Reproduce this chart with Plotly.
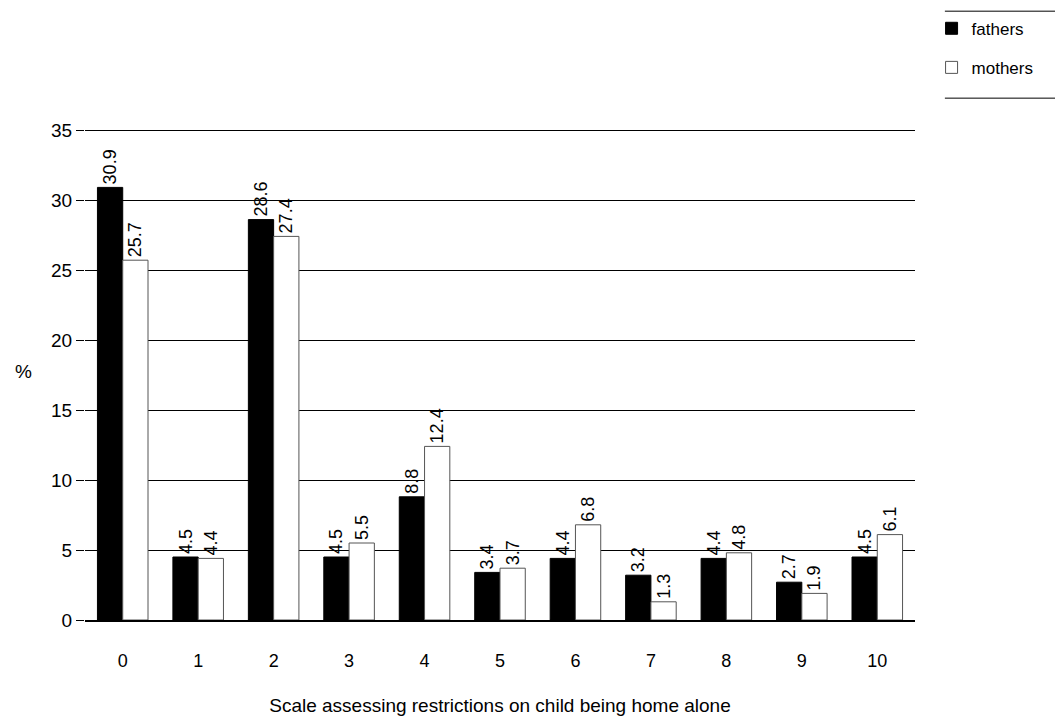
import plotly.graph_objects as go

categories = ["0", "1", "2", "3", "4", "5", "6", "7", "8", "9", "10"]
fathers = [30.9, 4.5, 28.6, 4.5, 8.8, 3.4, 4.4, 3.2, 4.4, 2.7, 4.5]
mothers = [25.7, 4.4, 27.4, 5.5, 12.4, 3.7, 6.8, 1.3, 4.8, 1.9, 6.1]
y_ticks = [0, 5, 10, 15, 20, 25, 30, 35]

FONT = "Liberation Sans, Arial, sans-serif"

fig = go.Figure()
fig.add_trace(go.Bar(
    x=categories, y=fathers, name="fathers", legendgroup="f",
    marker=dict(color="black", line=dict(color="black", width=1)),
    text=[f"{v}" for v in fathers], textposition="outside", textangle=-90,
    constraintext="none", cliponaxis=False,
    textfont=dict(size=18, color="black", family=FONT),
))
fig.add_trace(go.Bar(
    x=categories, y=mothers, name="mothers", legendgroup="m",
    marker=dict(color="white", line=dict(color="#555555", width=1)),
    text=[f"{v}" for v in mothers], textposition="outside", textangle=-90,
    constraintext="none", cliponaxis=False,
    textfont=dict(size=18, color="black", family=FONT),
))

fig.update_layout(
    width=1055, height=716,
    margin=dict(l=85, r=140, t=123, b=96),
    paper_bgcolor="white", plot_bgcolor="white",
    font=dict(family=FONT, size=17, color="black"),
    barmode="group", bargap=0.33, bargroupgap=0,
    showlegend=True,
    legend=dict(xref="container", yref="container",
                x=0.883, y=0.985, xanchor="left", yanchor="top",
                font=dict(size=17, color="black", family=FONT),
                bgcolor="rgba(0,0,0,0)", itemwidth=30,
                traceorder="grouped", tracegroupgap=14),
    xaxis=dict(
        showgrid=False, showline=True, linecolor="black", linewidth=1.5,
        ticks="", tickfont=dict(size=18), automargin=False,
        ticklabelstandoff=24,
        title=dict(text="Scale assessing restrictions on child being home alone",
                   font=dict(size=19), standoff=30),
    ),
    yaxis=dict(
        range=[0, 35.5], tickvals=y_ticks, showgrid=True, gridcolor="black",
        gridwidth=1, zeroline=False, showline=False,
        ticks="outside", ticklen=8, tickcolor="black",
        tickfont=dict(size=19), automargin=False,
    ),
    annotations=[dict(text="%", x=0, y=0.5, xref="paper", yref="paper",
                      xanchor="left", showarrow=False,
                      font=dict(size=19, color="black", family=FONT),
                      xshift=-72)],
    shapes=[
        dict(type="line", xref="paper", yref="paper", x0=1.036, x1=1.169,
             y0=1.225, y1=1.225, line=dict(color="black", width=1)),
        dict(type="line", xref="paper", yref="paper", x0=1.036, x1=1.169,
             y0=1.05, y1=1.05, line=dict(color="black", width=1)),
    ],
)

fig.write_html("out.html")
